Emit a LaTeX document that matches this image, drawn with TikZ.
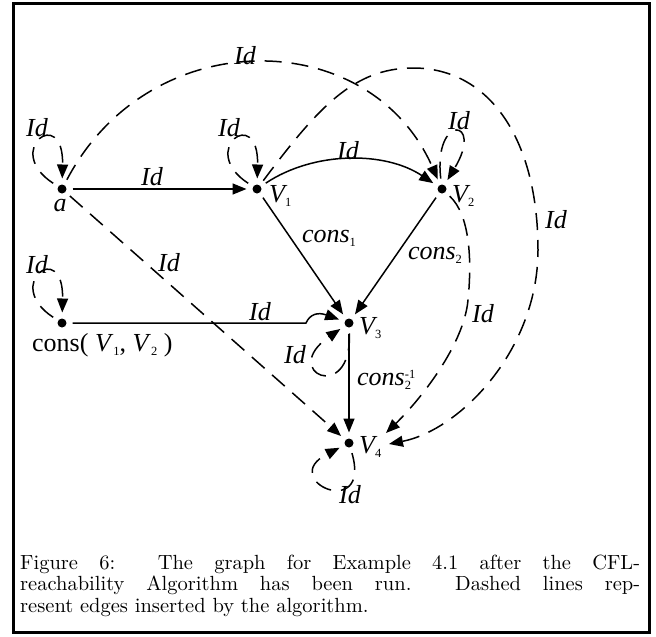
\documentclass[tikz,border=0pt]{standalone}
\usepackage{fontspec}
\usepackage{graphicx}
\newfontfamily\tms{Liberation Serif}
\usetikzlibrary{arrows.meta}
\newcommand\sbs[1]{\raisebox{-4pt}{\fontsize{12.5}{12.5}\selectfont\upshape #1}}
\newcommand\capline[1]{\scalebox{2.05}{\fontsize{10}{12}\selectfont #1}}
\begin{document}
\begin{tikzpicture}[x=1pt,y=-1pt,
  dot/.style={circle,fill=black,inner sep=0pt,minimum size=9pt,outer sep=6pt},
  lab/.style={font=\tms\itshape\fontsize{26}{26}\selectfont,inner sep=0pt},
  edge/.style={line width=1.5pt,-{Triangle[length=14pt,width=11pt]}},
  dedge/.style={edge,dash pattern=on 17pt off 10pt},
  captext/.style={inner sep=0pt,anchor=base west},
]
\useasboundingbox (0,0) rectangle (656,637);
\draw[line width=3pt] (13.5,3.5) rectangle (649,632.5);

% vertices
\node[dot] (a) at (62,189) {};
\node[dot] (v1) at (257,189) {};
\node[dot] (v2) at (442,189) {};
\node[dot] (v3) at (349,323) {};
\node[dot] (v4) at (349,443) {};
\node[dot] (c) at (62,323) {};
\coordinate (v4e1) at (386,433);
\coordinate (v4e2) at (389,444);

% vertex labels
\node[lab] (la) at (60,206) {a};
\node[lab,anchor=base west] (lv1) at (269,202) {V\sbs1};
\node[lab,anchor=base west] (lv2) at (452,202) {V\sbs2};
\node[lab,anchor=base west] (lv3) at (359,334) {V\sbs3};
\node[lab,anchor=base west] (lv4) at (359,453) {V\sbs4};
\node[lab,anchor=base west] (lc) at (32,351) {\upshape cons( \textit{V}\sbs1, \textit{V}\sbs2 )};

% solid edges
\draw[edge] (a) -- (v1);
\draw[edge] (v1) .. controls (314,151) and (385,151) .. (v2);
\draw[edge] (v1) -- (v3);
\draw[edge] (v2) -- (v3);
\draw[edge] (v3) -- (v4);
\draw[edge] (c) -- (306,323) .. controls (310,314) and (318,312) .. (v3);

% dashed edges
\draw[dedge] (a) .. controls (150,22) and (370,25) .. (v2);
\draw[dedge] (a) -- (v4);
\draw[dedge] (v1) .. controls (317,109) and (353,68) .. (413,68)
  .. controls (490,68) and (538,140) .. (538,250)
  .. controls (538,350) and (460,430) .. (v4e2);
\draw[dedge] (v2) .. controls (470,215) and (472,260) .. (468,300)
  .. controls (464,345) and (420,400) .. (v4e1);

% self loops
\draw[dedge] (a) .. controls (2,150) and (64,104) .. (a);
\draw[dedge] (v1) .. controls (197,150) and (259,104) .. (v1);
\draw[dedge] (c) .. controls (2,284) and (64,238) .. (c);
\draw[dedge] (v2) .. controls (433,113) and (485,118) .. (v2);
\draw[dedge] (v3) .. controls (352,405) and (278,372) .. (v3);
\draw[dedge] (v4) .. controls (372,522) and (276,480) .. (v4);

% edge labels
\node[lab] (l1) at (152,177) {Id};
\node[lab] (l2) at (348,151) {Id};
\node[lab] (l3) at (245,56) {Id};
\node[lab] (l4) at (37,128) {Id};
\node[lab] (l5) at (229,128) {Id};
\node[lab] (l6) at (459,121) {Id};
\node[lab] (l7) at (37,265) {Id};
\node[lab] (l8) at (169,263) {Id};
\node[lab] (l9) at (260,312) {Id};
\node[lab] (l10) at (295,355) {Id};
\node[lab] (l11) at (556,220) {Id};
\node[lab] (l12) at (483,314) {Id};
\node[lab] (l13) at (350,495) {Id};
\node[lab] (k1) at (329,238) {cons\sbs1};
\node[lab] (k2) at (435,255) {cons\sbs2};
\node[lab,anchor=base west] (k3) at (357,385) {cons\rlap{\sbs2}\raisebox{7pt}{\fontsize{12.5}{12.5}\selectfont\upshape -1}};

% caption
\node[captext] (cap1) at (20,569) {\capline{\makebox[302.4pt][s]{Figure 6:\ \ The graph for Example 4.1 after the CFL-}}};
\node[captext] (cap2) at (20,590.5) {\capline{\makebox[302.4pt][s]{reachability Algorithm has been run.\ \ Dashed lines rep-}}};
\node[captext] (cap3) at (20,612) {\capline{resent edges inserted by the algorithm.}};
\end{tikzpicture}
\end{document}
